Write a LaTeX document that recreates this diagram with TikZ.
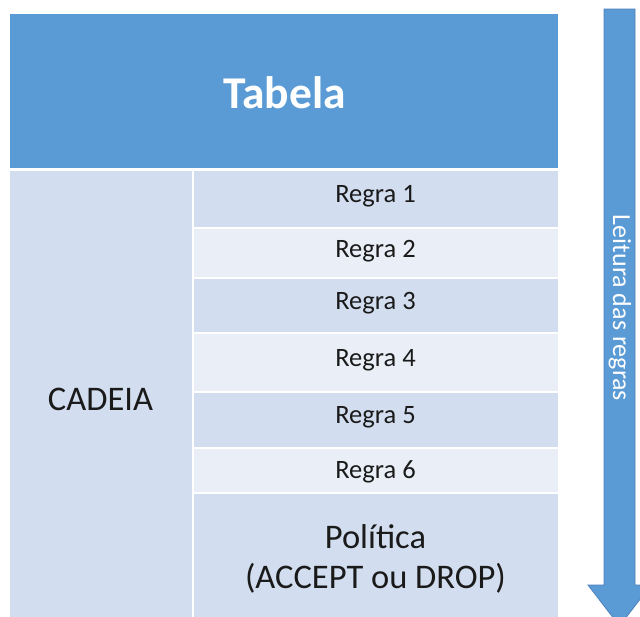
\documentclass[tikz,border=0pt]{standalone}
\usepackage{fontspec}
\setmainfont{Carlito}
\definecolor{hdrblue}{HTML}{5B9BD5}
\definecolor{edgeblue}{HTML}{4F81BD}
\definecolor{celldark}{HTML}{D2DEEF}
\definecolor{celllight}{HTML}{EAEFF7}
\definecolor{ink}{HTML}{1A1A1A}
\begin{document}
\begin{tikzpicture}[x=1pt,y=-1pt,
  cell/.style={fill=#1,draw=none},
  celltext/.style={text=ink,font=\fontsize{26.5}{31}\selectfont,inner sep=0pt},
  bigtext/.style={text=ink,font=\fontsize{34.5}{40}\selectfont,inner sep=0pt,align=center}]
\useasboundingbox (0,0) rectangle (640,616);
\fill[white] (0,0) rectangle (640,616);
\begin{scope}
\clip (0,0) rectangle (640,616);
% header band
\fill[hdrblue] (10,14) rectangle (558,168);
\node[text=white,font=\bfseries\fontsize{45.5}{50}\selectfont] (tabela) at (284.5,93) {Tabela};
% chain column
\fill[celldark] (10,171) rectangle (191.5,620);
\node[bigtext] (cadeia) at (100.5,399) {CADEIA};
% rule rows
\fill[cell=celldark]  (193.5,171) rectangle (558,227);
\fill[cell=celllight] (193.5,229) rectangle (558,277);
\fill[cell=celldark]  (193.5,279) rectangle (558,332);
\fill[cell=celllight] (193.5,334) rectangle (558,391);
\fill[cell=celldark]  (193.5,393) rectangle (558,447);
\fill[cell=celllight] (193.5,449) rectangle (558,492);
\fill[cell=celldark]  (193.5,494) rectangle (558,620);
\node[celltext] (r1) at (375.5,196) {Regra 1};
\node[celltext] (r2) at (375.5,251) {Regra 2};
\node[celltext] (r3) at (375.5,303) {Regra 3};
\node[celltext] (r4) at (375.5,360) {Regra 4};
\node[celltext] (r5) at (375.5,417) {Regra 5};
\node[celltext] (r6) at (375.5,472) {Regra 6};
\node[bigtext] (pol) at (375.5,559) {Política\\(ACCEPT ou DROP)};
% reading-order arrow
\filldraw[fill=hdrblue,draw=edgeblue,line width=0.8pt,line join=miter]
  (604,9) -- (635,9) -- (635,585) -- (651,585) -- (619.5,626)
  -- (588,585) -- (604,585) -- cycle;
\node[text=white,font=\fontsize{26}{30}\selectfont,rotate=-90,inner sep=0pt]
  (leitura) at (620,308) {Leitura das regras};
\end{scope}
\end{tikzpicture}
\end{document}
